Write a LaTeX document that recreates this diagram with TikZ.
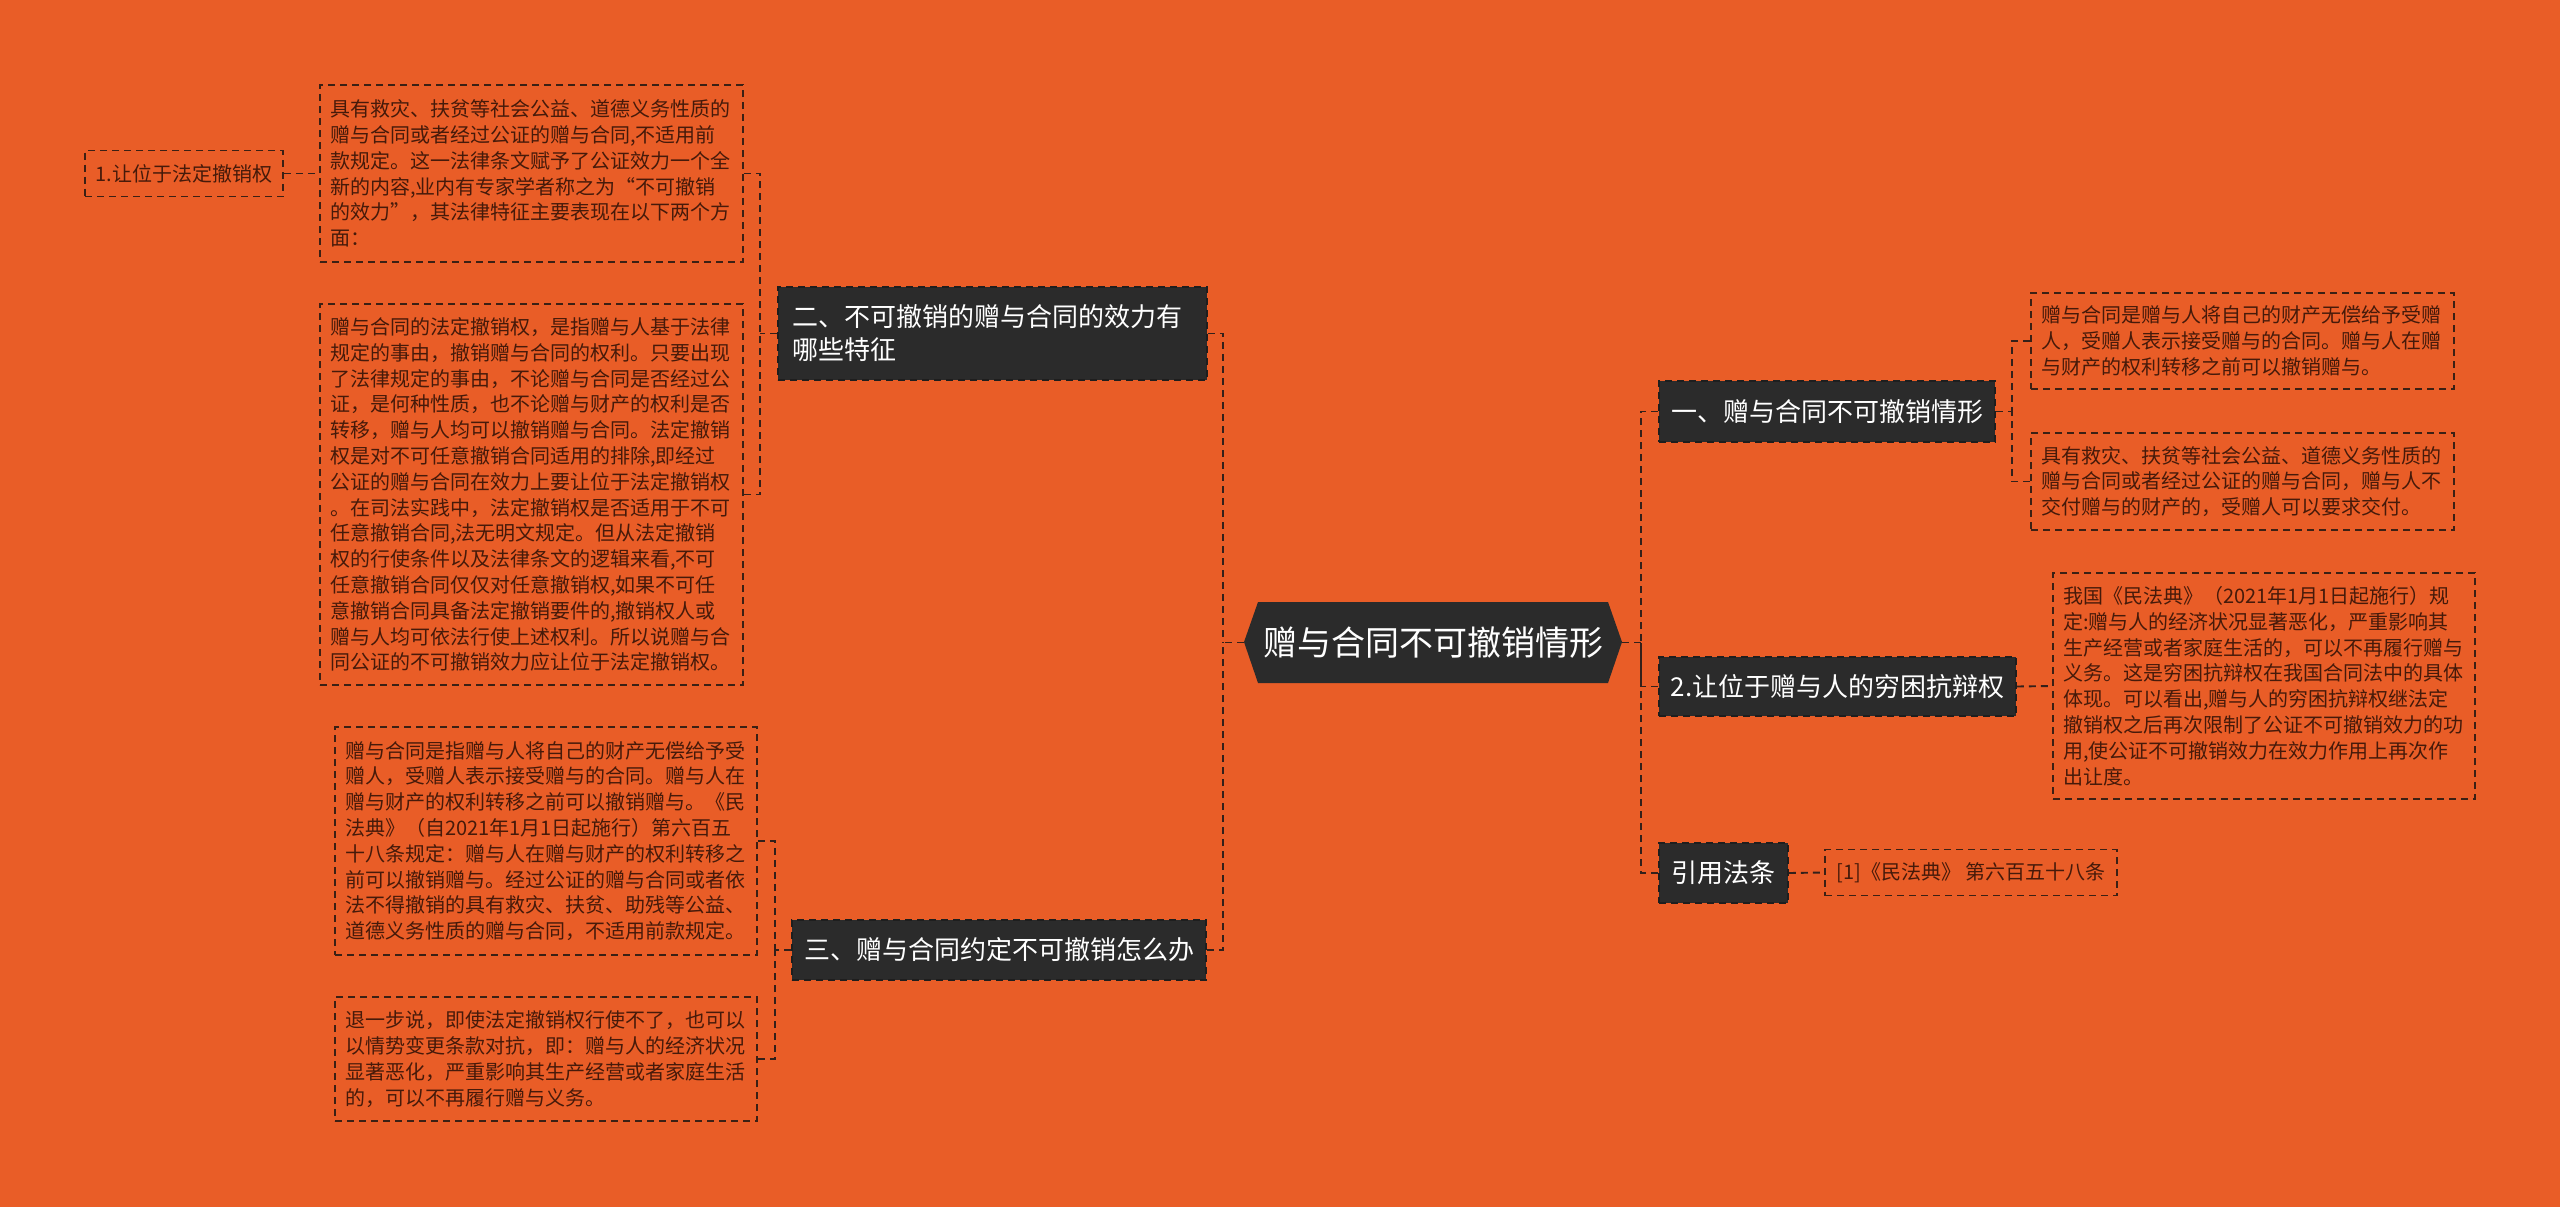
\documentclass[tikz,border=0pt]{standalone}
\usepackage{fontspec}
\setmainfont{Noto Sans CJK SC}
\usetikzlibrary{calc}
\definecolor{bg}{HTML}{E95D27}
\definecolor{darkfill}{HTML}{2B2B2B}
\definecolor{txt}{HTML}{461A0A}
\definecolor{boxline}{HTML}{3C2014}
\definecolor{conn}{HTML}{33201A}
\tikzset{
  dashpat/.style={dash pattern=on 7pt off 5pt, line width=1.9pt},
  txtbox/.style={draw=boxline, dashpat, text=txt, font=\fontsize{20}{25.8}\selectfont,
    align=left, inner xsep=10pt, inner ysep=0pt, anchor=center},
  darkbox/.style={fill=darkfill, draw=darkfill!70!black, dashpat, text=white,
    font=\fontsize{26}{33}\selectfont, inner sep=0pt, anchor=center, align=center},
  link/.style={draw=conn, dashpat}
}
\begin{document}
\begin{tikzpicture}[x=1pt,y=-1pt]
\fill[bg] (0,0) rectangle (2560,1207);
\useasboundingbox (0,0) rectangle (2560,1207);

% central hexagon
\fill[darkfill] (1244,642) -- (1258,602) -- (1608,602) -- (1622,642) -- (1608,683) -- (1258,683) -- cycle;
\node[text=white, font=\fontsize{34}{40}\selectfont, inner sep=0pt, minimum width=378pt, minimum height=81pt, anchor=center] (center) at (1433,642.5) {赠与合同不可撤销情形};

% left branch: 二
\node[darkbox, text width=401pt, align=left, minimum width=429pt, minimum height=93pt, inner xsep=14pt] (er) at (992.5,333.5) {二、不可撤销的赠与合同的效力有\\哪些特征};
\node[txtbox, text width=403pt, minimum height=177pt] (box1) at (531.5,173.5) {具有救灾、扶贫等社会公益、道德义务性质的\\赠与合同或者经过公证的赠与合同,不适用前\\款规定。这一法律条文赋予了公证效力一个全\\新的内容,业内有专家学者称之为“不可撤销\\的效力”，其法律特征主要表现在以下两个方\\面：};
\node[txtbox, text width=403pt, minimum height=381pt] (box2) at (531.5,494.5) {赠与合同的法定撤销权，是指赠与人基于法律\\规定的事由，撤销赠与合同的权利。只要出现\\了法律规定的事由，不论赠与合同是否经过公\\证，是何种性质，也不论赠与财产的权利是否\\转移，赠与人均可以撤销赠与合同。法定撤销\\权是对不可任意撤销合同适用的排除,即经过\\公证的赠与合同在效力上要让位于法定撤销权\\。在司法实践中，法定撤销权是否适用于不可\\任意撤销合同,法无明文规定。但从法定撤销\\权的行使条件以及法律条文的逻辑来看,不可\\任意撤销合同仅仅对任意撤销权,如果不可任\\意撤销合同具备法定撤销要件的,撤销权人或\\赠与人均可依法行使上述权利。所以说赠与合\\同公证的不可撤销效力应让位于法定撤销权。};
\node[txtbox, inner xsep=0pt, minimum width=198pt, minimum height=46pt, align=center] (one) at (184,173.5) {1.让位于法定撤销权};

% left branch: 三
\node[darkbox, minimum width=414pt, minimum height=60pt] (san) at (999,950) {三、赠与合同约定不可撤销怎么办};
\node[txtbox, text width=402pt, minimum height=228pt] (boxc) at (546,841) {赠与合同是指赠与人将自己的财产无偿给予受\\赠人，受赠人表示接受赠与的合同。赠与人在\\赠与财产的权利转移之前可以撤销赠与。《民\\法典》（自2021年1月1日起施行）第六百五\\十八条规定：赠与人在赠与财产的权利转移之\\前可以撤销赠与。经过公证的赠与合同或者依\\法不得撤销的具有救灾、扶贫、助残等公益、\\道德义务性质的赠与合同，不适用前款规定。};
\node[txtbox, text width=402pt, minimum height=124pt] (boxd) at (546,1059) {退一步说，即使法定撤销权行使不了，也可以\\以情势变更条款对抗，即：赠与人的经济状况\\显著恶化，严重影响其生产经营或者家庭生活\\的，可以不再履行赠与义务。};

% right branch
\node[darkbox, minimum width=336pt, minimum height=61pt] (yi) at (1827,411.5) {一、赠与合同不可撤销情形};
\node[darkbox, minimum width=357pt, minimum height=59pt] (er2) at (1837.5,686.5) {2.让位于赠与人的穷困抗辩权};
\node[darkbox, minimum width=129pt, minimum height=60pt] (yin) at (1723.5,873) {引用法条};
\node[txtbox, text width=403pt, minimum height=96pt] (boxa) at (2242.5,341) {赠与合同是赠与人将自己的财产无偿给予受赠\\人，受赠人表示接受赠与的合同。赠与人在赠\\与财产的权利转移之前可以撤销赠与。};
\node[txtbox, text width=403pt, minimum height=97pt] (boxb) at (2242.5,481.5) {具有救灾、扶贫等社会公益、道德义务性质的\\赠与合同或者经过公证的赠与合同，赠与人不\\交付赠与的财产的，受赠人可以要求交付。};
\node[txtbox, text width=402pt, minimum height=226pt] (boxw) at (2264,686) {我国《民法典》（2021年1月1日起施行）规\\定:赠与人的经济状况显著恶化，严重影响其\\生产经营或者家庭生活的，可以不再履行赠与\\义务。这是穷困抗辩权在我国合同法中的具体\\体现。可以看出,赠与人的穷困抗辩权继法定\\撤销权之后再次限制了公证不可撤销效力的功\\用,使公证不可撤销效力在效力作用上再次作\\出让度。};
\node[txtbox, inner xsep=0pt, minimum width=292pt, minimum height=46pt, align=center] (ref) at (1971,872.5) {[1]《民法典》 第六百五十八条};

% junction coordinates
\coordinate (trunkL) at (1223,642.5);
\coordinate (trunkR) at (1641,642.5);
\coordinate (jer) at (760,333.5);
\coordinate (jsan) at (775,950);
\coordinate (jyi) at (2012,411.5);

% connectors
\draw[link] (center.west) -- (trunkL);
\draw[link] (er.east) -| (trunkL);
\draw[link] (san.east) -| (trunkL);
\draw[link] (center.east) -- (trunkR);
\draw[link] (yi.west) -| (trunkR);
\draw[link] (er2.west) -| (trunkR);
\draw[link] (yin.west) -| (trunkR);
\draw[link] (er.west) -- (jer);
\draw[link] (box1.east) -| (jer);
\draw[link] (box2.east) -| (jer);
\draw[link] (one.east) -- (box1.west);
\draw[link] (san.west) -- (jsan);
\draw[link] (boxc.east) -| (jsan);
\draw[link] (boxd.east) -| (jsan);
\draw[link] (yi.east) -- (jyi);
\draw[link] (boxa.west) -| (jyi);
\draw[link] (boxb.west) -| (jyi);
\draw[link] (er2.east) -- (boxw.west);
\draw[link] (yin.east) -- (ref.west);
\end{tikzpicture}
\end{document}
